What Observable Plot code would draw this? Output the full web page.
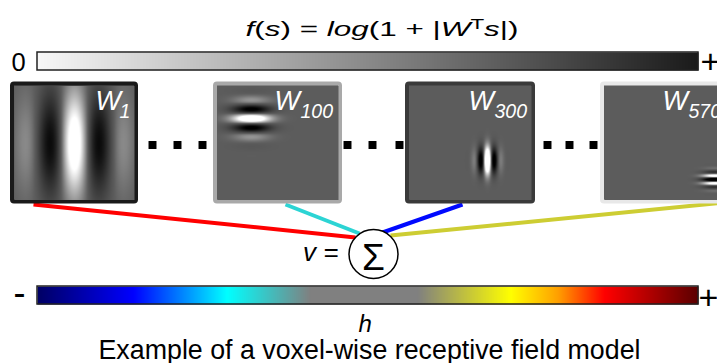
<!DOCTYPE html>
<html>
<head>
<meta charset="utf-8">
<script src="https://cdn.jsdelivr.net/npm/d3@7"></script>
<script src="https://cdn.jsdelivr.net/npm/@observablehq/plot@0.6"></script>
<style>
  html, body { margin: 0; padding: 0; background: #fff; }
  #chart { width: 717px; height: 363px; overflow: hidden; }
  #chart svg { display: block; overflow: hidden; }
</style>
</head>
<body>
<div id="chart"></div>
<script>
// ---------------- DATA ----------------
const filterIds = [1, 100, 300, 570];            // feature (filter) indices
const responses = [1.0, 0.355, 0.855, 0.07];     // f(s) = log(1+|W^T s|), 0 .. +
const weights   = [0.716, -0.34, -0.70, 0.32];   // voxel weights h, - .. +
const gaborOrientation = ["v", "h", "v", "h"];
const gaborWavelength  = [53, 20, 15, 8];
const gaborSigmaX      = [29, 13, 6.5, 8];
const gaborSigmaY      = [36, 11, 9, 5];
const gaborPhase       = [0, 0, 0, Math.PI];
const gaborAmplitude   = [1.3, 1.6, 2.2, 1.6];
const titleSegments = [["f","i"],["(","n"],["s","i"],[") = ","n"],["log","i"],["(1 + |","n"],["W","i"],["T","sup"],["s","i"],["|)","n"]];
const captionText = "Example of a voxel-wise receptive field model";
const responseTicks = ["0", "+"];
const weightTicks = ["-", "+"];
const weightLabel = "h";
const sumLabel = "\u03A3";
const outputLabel = "v =";

// ---------------- LAYOUT / STYLE ----------------
const FONT = "'Liberation Sans', Arial, Helvetica, sans-serif";
const layout = {
  panelX1: [10, 213, 405, 600], panelX2: [138, 342, 535, 732],
  panelY1: 81.5, panelY2: 203.5, border: 4,
  gaborCX: [74, 251, 487, 714], gaborCY: [143, 118, 160, 179],
  labelWX: [95, 274, 468, 662], labelSubX: [119, 300, 494, 688],
  linkX1: [33, 285, 462, 745], linkY1: [204, 204, 204, 200],
  linkX2: [355, 359, 382, 390], linkY2: [237, 233, 232, 235],
  dotsX: [152, 177, 202, 347, 372, 399, 547, 569, 593], dotsY: 144.5,
  barX1: 37, barX2: 698, grayBarY: [52, 70], jetBarY: [286, 304],
  circle: {x: 373, y: 253.5, r: 24.5}
};

const grayScale = d3.scaleLinear().domain([0, 1]).range(["#f8f8f8", "#1a1a1a"]).clamp(true);
const jet = d3.scaleLinear()
  .domain([-1, -0.71, -0.426, -0.174, 0.15, 0.432, 0.574, 0.716, 1])
  .range(["#000064", "#0000ff", "#00ffff", "#808080", "#808080", "#ffff00", "#ffa000", "#ff0000", "#5a0000"])
  .clamp(true);
const gaborGray = d3.scaleLinear().domain([-1, 0, 1]).range(["#000000", "#5c5c5c", "#ffffff"]).clamp(true);
const barGray = d3.scaleLinear().domain([layout.barX1, layout.barX2]).range([0, 1]);
const barJet = d3.scaleLinear().domain([layout.barX1, layout.barX2]).range([-1, 1]);

const panels = filterIds.map((id, i) => ({
  id, f: responses[i], h: weights[i],
  x1: layout.panelX1[i], x2: layout.panelX2[i],
  orient: gaborOrientation[i], lambda: gaborWavelength[i],
  sx: gaborSigmaX[i], sy: gaborSigmaY[i], phase: gaborPhase[i], amp: gaborAmplitude[i],
  cx: layout.gaborCX[i], cy: layout.gaborCY[i],
  wx: layout.labelWX[i], subx: layout.labelSubX[i],
  lx1: layout.linkX1[i], ly1: layout.linkY1[i], lx2: layout.linkX2[i], ly2: layout.linkY2[i]
}));

function gabor(p, x, y) {
  const dx = x - p.cx, dy = y - p.cy;
  const u = p.orient === "v" ? dx : dy;
  const env = Math.exp(-(dx * dx) / (2 * p.sx * p.sx) - (dy * dy) / (2 * p.sy * p.sy));
  return p.amp * env * Math.cos(2 * Math.PI * u / p.lambda + p.phase);
}

const b = layout.border;
const textBase = {fontFamily: FONT, lineAnchor: "bottom", fill: "#000"};

const gaborRasters = panels.map(p => {
  const x1 = p.x1 + b, x2 = p.x2 - b, y1 = layout.panelY1 + b, y2 = layout.panelY2 - b;
  return Plot.raster({
    x1, x2, y1, y2,
    width: Math.round(x2 - x1), height: Math.round(y2 - y1),
    fill: (x, y) => gaborGray(gabor(p, x, y))
  });
});

const chart = Plot.plot({
  width: 717, height: 363, margin: 0,
  x: {domain: [0, 717], range: [0, 717], axis: null},
  y: {domain: [0, 363], range: [0, 363], axis: null},
  color: {type: "identity"},
  style: {background: "#fff", fontFamily: FONT, overflow: "hidden"},
  marks: [
    // title
    Plot.text([titleSegments.map(s => s[0]).join("")], {...textBase, className: "title-mark", x: 245, y: 35, text: d => d, textAnchor: "start", fontSize: 21}),
    // gray response bar
    Plot.raster({x1: layout.barX1, x2: layout.barX2, y1: layout.grayBarY[0], y2: layout.grayBarY[1], width: layout.barX2 - layout.barX1, height: 1, fill: (x) => grayScale(barGray(x))}),
    Plot.rect([0], {x1: layout.barX1, x2: layout.barX2, y1: layout.grayBarY[0], y2: layout.grayBarY[1], fill: "none", stroke: "#222", strokeWidth: 1.5}),
    Plot.text([responseTicks[0]], {...textBase, x: 11, y: 70, text: d => d, textAnchor: "start", fontSize: 25.5}),
    Plot.text([responseTicks[1]], {...textBase, x: 700, y: 72, text: d => d, textAnchor: "start", fontSize: 34}),
    // connection lines (colored by weight)
    Plot.link(panels, {x1: "lx1", y1: "ly1", x2: "lx2", y2: "ly2", stroke: d => jet(d.h), strokeWidth: 4}),
    // panels (border shaded by response)
    Plot.rect(panels, {x1: d => d.x1 + b / 2, x2: d => d.x2 - b / 2, y1: layout.panelY1 + b / 2, y2: layout.panelY2 - b / 2, fill: "#5c5c5c", stroke: d => grayScale(d.f), strokeWidth: b, rx: 2}),
    ...gaborRasters,
    Plot.text(panels, {...textBase, x: "wx", y: 109, text: () => "W", textAnchor: "start", fontSize: 27, fontStyle: "italic", fill: "#fff"}),
    Plot.text(panels, {...textBase, x: "subx", y: 117, text: d => String(d.id), textAnchor: "start", fontSize: 19.5, fontStyle: "italic", fill: "#fff"}),
    // ellipsis dots
    Plot.dot(layout.dotsX, {x: d => d, y: layout.dotsY, symbol: "square", r: 4.5, fill: "#000"}),
    // summation node
    Plot.dot([0], {x: layout.circle.x, y: layout.circle.y, r: layout.circle.r, fill: "#fff", stroke: "#000", strokeWidth: 1.5}),
    Plot.text([sumLabel], {...textBase, x: layout.circle.x, y: 269, text: d => d, textAnchor: "middle", fontSize: 37}),
    Plot.text([outputLabel], {...textBase, x: 338, y: 260, text: d => d, textAnchor: "end", fontSize: 26, fontStyle: "italic"}),
    // jet weight bar
    Plot.raster({x1: layout.barX1, x2: layout.barX2, y1: layout.jetBarY[0], y2: layout.jetBarY[1], width: layout.barX2 - layout.barX1, height: 1, fill: (x) => jet(barJet(x))}),
    Plot.rect([0], {x1: layout.barX1, x2: layout.barX2, y1: layout.jetBarY[0], y2: layout.jetBarY[1], fill: "none", stroke: "#222", strokeWidth: 1.5}),
    Plot.text([weightTicks[0]], {...textBase, x: 19, y: 304, text: d => d, textAnchor: "middle", fontSize: 36}),
    Plot.text([weightTicks[1]], {...textBase, x: 698, y: 308.5, text: d => d, textAnchor: "start", fontSize: 34}),
    Plot.text([weightLabel], {...textBase, x: 358, y: 331.5, text: d => d, textAnchor: "start", fontSize: 24, fontStyle: "italic"}),
    // caption
    Plot.text([captionText], {...textBase, className: "caption-mark", x: 369, y: 358, text: d => d, textAnchor: "middle", fontSize: 27})
  ]
});

document.getElementById("chart").appendChild(chart);

// rich-text title: italics and superscript
const titleEl = d3.select(chart).select(".title-mark text");
titleEl.text(null);
let pendingDy = 0;
titleSegments.forEach(([s, kind]) => {
  const ts = titleEl.append("tspan").text(s);
  ts.attr("font-style", kind === "i" ? "italic" : "normal");
  if (kind === "sup") { ts.attr("font-size", 15).attr("dy", -7); pendingDy = 7; }
  else if (pendingDy) { ts.attr("dy", pendingDy); pendingDy = 0; }
});
titleEl.attr("textLength", 273).attr("lengthAdjust", "spacingAndGlyphs");
d3.select(chart).select(".caption-mark text").attr("textLength", 542).attr("lengthAdjust", "spacingAndGlyphs");
</script>
</body>
</html>
